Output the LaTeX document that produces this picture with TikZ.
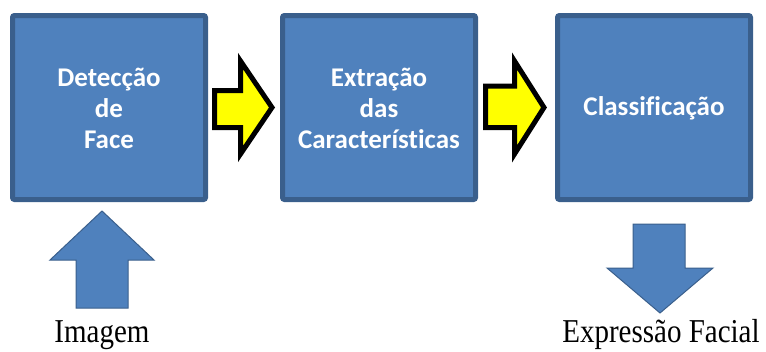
\documentclass[tikz,border=0pt]{standalone}
\usepackage{fontspec}
\usepackage{graphicx}
\setmainfont{Liberation Serif}
\newfontfamily\boxfont[Ligatures=NoCommon]{Carlito}
\definecolor{boxfill}{HTML}{4F81BD}
\definecolor{boxedge}{HTML}{3A5F8C}
\definecolor{arrowyellow}{HTML}{FFFF00}
\newcommand{\tallcap}[1]{\scalebox{1}[1.15]{#1}}
\begin{document}
\begin{tikzpicture}[x=1pt,y=-1pt,
  stage/.style={draw=boxedge, fill=boxfill, line width=5pt, rounded corners=2pt},
  stagetext/.style={text=white, font=\boxfont\bfseries\fontsize{27}{31}\selectfont, align=center},
  yarrow/.style={draw=black, fill=arrowyellow, line width=5pt, miter limit=10},
  barrow/.style={draw=boxedge, fill=boxfill, line width=1pt},
  caption/.style={font=\fontsize{29}{32}\selectfont, anchor=base}]
\useasboundingbox (0,0) rectangle (766,351);
% boxes
\draw[stage] (12.5,15.5) rectangle (205.5,199.5);
\draw[stage] (282.5,15.5) rectangle (475.5,199.5);
\draw[stage] (557.5,15.5) rectangle (750.5,199.5);
\node[stagetext] (b1) at (109,108) {Detecção\\de\\Face};
\node[stagetext] (b2) at (379,108) {Extração\\das\\Características};
\node[stagetext] (b3) at (654,108) {Classificação};
% yellow arrows
\draw[yarrow] (214.5,90.5) -- (240.5,90.5) -- (240.5,61) -- (272,107.5) -- (240.5,154) -- (240.5,127.5) -- (214.5,127.5) -- cycle;
\draw[yarrow] (485.5,86) -- (514.5,86) -- (514.5,61) -- (544,107.5) -- (514.5,154) -- (514.5,127.5) -- (485.5,127.5) -- cycle;
% input / output arrows
\draw[barrow] (102,211) -- (154,260) -- (128,260) -- (128,308) -- (76,308) -- (76,260) -- (50,260) -- cycle;
\draw[barrow] (633,224) -- (685,224) -- (685,268) -- (713,268) -- (660,313) -- (607,268) -- (633,268) -- cycle;
% captions
\node[caption] (in) at (102,342) {\tallcap{Imagem}};
\node[caption] (out) at (661,342) {\tallcap{Expressão Facial}};
\end{tikzpicture}
\end{document}
